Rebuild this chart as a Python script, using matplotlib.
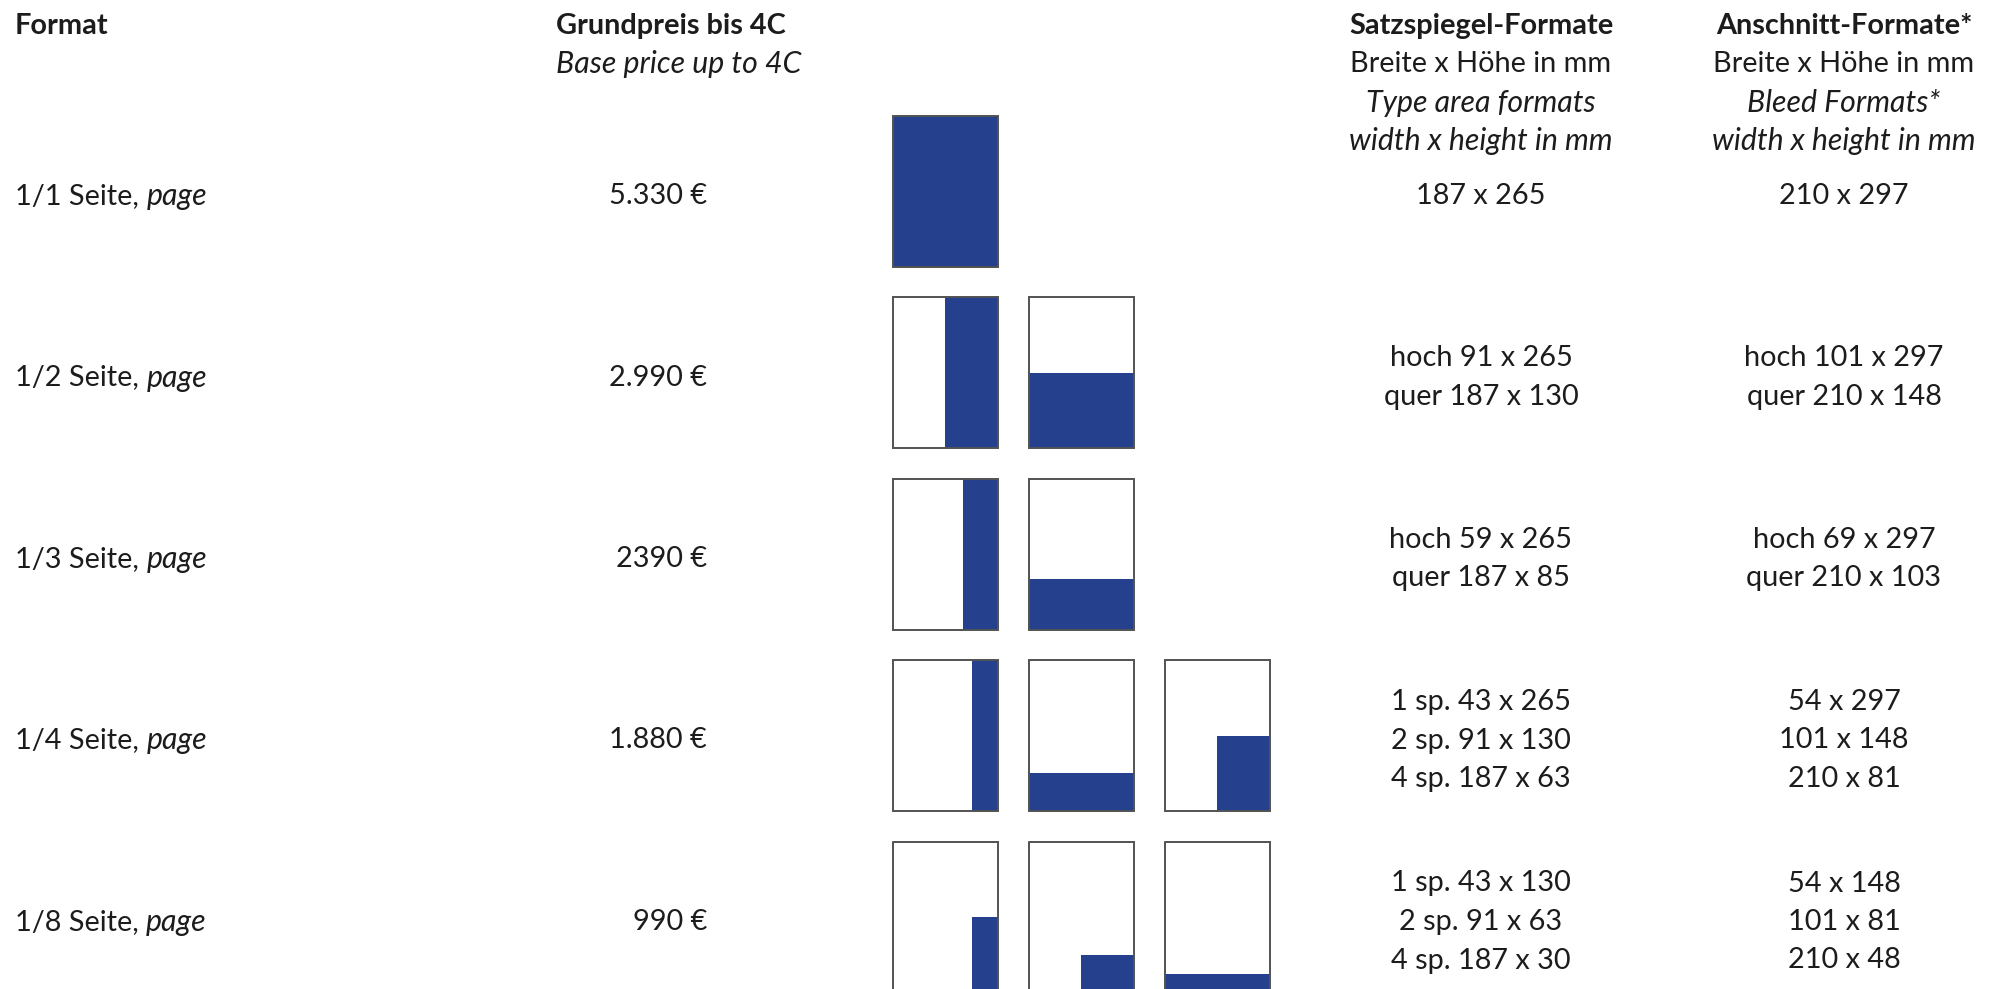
import matplotlib
matplotlib.use('Agg')
import matplotlib.pyplot as plt
from matplotlib.patches import Rectangle

# ---- data ----
formats = ['1/1 Seite,', '1/2 Seite,', '1/3 Seite,', '1/4 Seite,', '1/8 Seite,']
prices = ['5.330 €', '2.990 €', '2390 €', '1.880 €', '990 €']
type_area = [['187 x 265'],
             ['hoch 91 x 265', 'quer 187 x 130'],
             ['hoch 59 x 265', 'quer 187 x 85'],
             ['1 sp. 43 x 265', '2 sp. 91 x 130', '4 sp. 187 x 63'],
             ['1 sp. 43 x 130', '2 sp. 91 x 63', '4 sp. 187 x 30']]
bleed = [['210 x 297'],
         ['hoch 101 x 297', 'quer 210 x 148'],
         ['hoch 69 x 297', 'quer 210 x 103'],
         ['54 x 297', '101 x 148', '210 x 81'],
         ['54 x 148', '101 x 81', '210 x 48']]
# filled part of each page thumbnail: (left, bottom, width, height) as page fractions
fills = [[(0, 0, 1, 1)],
         [(0.5, 0, 0.5, 1), (0, 0, 1, 0.5)],
         [(2/3, 0, 1/3, 1), (0, 0, 1, 1/3)],
         [(0.75, 0, 0.25, 1), (0, 0, 1, 0.25), (0.5, 0, 0.5, 0.5)],
         [(0.75, 0, 0.25, 0.5), (0.5, 0, 0.5, 0.25), (0, 0, 1, 0.125)]]

# ---- style ----
FONT = 'Lato'
FS = 20.8
FS_IT = 21.8
TXT = '#1c1c1c'
BLUE = '#25408c'
EDGE = '#555555'
DY = 3  # text nudge down (px)

fig = plt.figure(figsize=(20.04, 9.89), dpi=100)
ax = fig.add_axes([0, 0, 1, 1])
ax.set_xlim(0, 2004)
ax.set_ylim(989, 0)
ax.axis('off')

kw = dict(family=FONT, color=TXT, va='center')

# header
head_y = [23 + DY, 61 + DY, 100 + DY, 138 + DY]
ax.text(15, head_y[0], 'Format', fontweight='bold', fontsize=FS, ha='left', **kw)
ax.text(556, head_y[0], 'Grundpreis bis 4C', fontweight='bold', fontsize=FS, ha='left', **kw)
ax.text(556, head_y[1], 'Base price up to 4C', style='italic', fontsize=FS_IT, ha='left', **kw)
cols = [(1481, 'Satzspiegel-Formate', 'Type area formats'),
        (1844, 'Anschnitt-Formate*', 'Bleed Formats*')]
for cx, t1, t3 in cols:
    ax.text(cx, head_y[0], t1, fontweight='bold', fontsize=FS, ha='center', **kw)
    ax.text(cx, head_y[1], 'Breite x Höhe in mm', fontsize=FS, ha='center', **kw)
    ax.text(cx, head_y[2], t3, style='italic', fontsize=FS_IT, ha='center', **kw)
    ax.text(cx, head_y[3], 'width x height in mm', style='italic', fontsize=FS_IT,
            ha='center', **kw)

fig.canvas.draw()
renderer = fig.canvas.get_renderer()
inv = ax.transData.inverted()

row0, row_step = 193, 181.5
box_x0, box_step, box_w, box_h = 893, 136, 105, 151
line_h = 38.5

for i in range(len(formats)):
    yc = row0 + i * row_step
    t = ax.text(15, yc + DY, formats[i] + ' ', fontsize=FS, ha='left', **kw)
    bb = t.get_window_extent(renderer)
    xend = inv.transform((bb.x1, bb.y0))[0]
    ax.text(xend, yc + DY, 'page', style='italic', fontsize=FS_IT, ha='left', **kw)

    ax.text(707, yc + DY, prices[i], fontsize=FS, ha='right', **kw)

    n = len(type_area[i])
    for j in range(n):
        ly = yc + DY + (j - (n - 1) / 2) * line_h
        ax.text(1481, ly, type_area[i][j], fontsize=FS, ha='center', **kw)
        ax.text(1844, ly, bleed[i][j], fontsize=FS, ha='center', **kw)

    top = yc - 2 - box_h / 2
    for k, (fx, fy, fw, fh) in enumerate(fills[i]):
        bx = box_x0 + k * box_step
        ax.add_patch(Rectangle((bx, top), box_w, box_h, facecolor='white',
                               edgecolor=EDGE, lw=1.3, zorder=2))
        ax.add_patch(Rectangle((bx + fx * box_w, top + box_h - (fy + fh) * box_h),
                               fw * box_w, fh * box_h, facecolor=BLUE,
                               edgecolor='none', zorder=3))
        ax.add_patch(Rectangle((bx, top), box_w, box_h, facecolor='none',
                               edgecolor=EDGE, lw=1.3, zorder=4))

fig.savefig('out.png', dpi=100, facecolor='white')
